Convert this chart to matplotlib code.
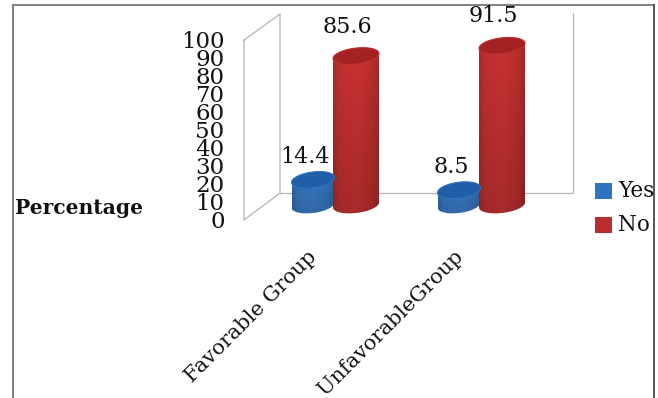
#!/usr/bin/env python3
import numpy as np
import matplotlib
matplotlib.use('Agg')
import matplotlib.pyplot as plt
from matplotlib.patches import Polygon

groups = ['Favorable Group', 'UnfavorableGroup']
series = ['Yes', 'No']
yes_values = [14.4, 8.5]
no_values = [85.6, 91.5]
y_ticks = list(range(0, 101, 10))

W, H = 658, 398
SERIF = 'DejaVu Serif'
INK = '#111111'

fig = plt.figure(figsize=(W / 100, H / 100), dpi=100)

# pixel axes for the frame, walls and text
ax = fig.add_axes([0, 0, 1, 1])
ax.set_xlim(0, W)
ax.set_ylim(H, 0)
ax.axis('off')

# outer picture border, open at the bottom
ax.plot([13, 13], [H + 10, 5], color='#7f7f7f', lw=1.4)
ax.plot([13, 654], [5, 5], color='#7f7f7f', lw=1.4)
ax.plot([654, 654], [5, H + 10], color='#555555', lw=1.4)

# 3d walls
wall = '#b5b5b5'
ax.plot([244, 280, 280, 244, 244], [40, 14, 193, 220, 40], color=wall, lw=0.9)
ax.plot([280, 573, 573], [193, 193, 13], color=wall, lw=0.9)

# value axis on the front edge of the wall
ax_y = fig.add_axes([244 / W, (H - 220) / H, 36 / W, 180 / H])
ax_y.set_ylim(0, 100)
ax_y.set_yticks(y_ticks)
ax_y.set_yticklabels([str(t) for t in y_ticks], family=SERIF, fontsize=16.5, color=INK)
ax_y.tick_params(axis='y', length=0, pad=14)
ax_y.set_xticks([])
ax_y.patch.set_alpha(0)
for s in ax_y.spines.values():
    s.set_visible(False)

# bars: x in pixels, y in percent
PX_PER_UNIT = 1.74
BASE_PX = 205
ax_b = fig.add_axes([0, 0, 1, 1])
ax_b.axis('off')
ax_b.patch.set_alpha(0)


def cylinder(x_c, value, half_w, base, top_color, rim_color):
    a = half_w
    b = 8 / PX_PER_UNIT
    tilt = 2.5 / PX_PER_UNIT
    t_low = np.linspace(np.pi, 2 * np.pi, 60)
    bot_x = x_c + a * np.cos(t_low)
    bot_y = b * np.sin(t_low) + tilt * np.cos(t_low)
    t_up = np.linspace(0, np.pi, 60)
    top_x = x_c + a * np.cos(t_up)
    top_y = value + b * np.sin(t_up) + tilt * np.cos(t_up)
    body = Polygon(np.column_stack([np.r_[bot_x, top_x], np.r_[bot_y, top_y]]),
                   closed=True, fc='none', ec='none', transform=ax_b.transData)
    ax_b.add_patch(body)
    # soft shading: a bit darker at the sides and towards the floor
    u = np.linspace(-1, 1, 64)
    across = np.interp(u, [-1, -0.75, 0, 0.7, 1], [0.84, 0.95, 1.0, 0.92, 0.8])
    down = np.linspace(1.0, 0.82, 64)
    img = np.outer(down, across)[:, :, None] * np.array(matplotlib.colors.to_rgb(base))
    im = ax_b.imshow(img, extent=(x_c - a, x_c + a, -10, value + 10), aspect='auto', zorder=2)
    im.set_clip_path(body)
    t = np.linspace(0, 2 * np.pi, 120)
    cap = np.column_stack([x_c + a * np.cos(t), value + b * np.sin(t) + tilt * np.cos(t)])
    ax_b.add_patch(Polygon(cap, closed=True, fc=top_color, ec=rim_color, lw=0.8, zorder=3))


# blue first, red overlaps it
for x_c, v in zip([313, 459], yes_values):
    cylinder(x_c, v, 21.5, '#3a7cc8', '#1f5fa8', '#2f72bf')
for x_c, v in zip([356, 502], no_values):
    cylinder(x_c, v, 23, '#cc3333', '#a52222', '#c43232')
ax_b.set_xlim(0, W)
ax_b.set_ylim((BASE_PX - H) / PX_PER_UNIT, BASE_PX / PX_PER_UNIT)

# value labels
for x, y, v in zip([305, 347], [157, 27], [yes_values[0], no_values[0]]):
    ax.text(x, y, f'{v:.1f}', family=SERIF, fontsize=16, color=INK, ha='center', va='center')
for x, y, v in zip([451, 493], [167, 16], [yes_values[1], no_values[1]]):
    ax.text(x, y, f'{v:.1f}', family=SERIF, fontsize=16, color=INK, ha='center', va='center')

# category labels
for x, name in zip([307, 453], groups):
    ax.text(x, 247, name, family=SERIF, fontsize=15, color=INK, rotation=45,
            rotation_mode='anchor', ha='right', va='top', clip_on=True)

ax.text(15, 208, 'Percentage', family=SERIF, fontsize=14.6, fontweight='bold', color=INK,
        ha='left', va='center')

# legend
for y, name, c in zip([191, 225], series, ['#2f72bf', '#b92d2d']):
    ax.add_patch(plt.Rectangle((595, y - 8), 17, 16, fc=c, ec='none'))
    ax.text(618, y, name, family=SERIF, fontsize=15.5, color=INK, ha='left', va='center')

fig.savefig('out.png', dpi=100)
